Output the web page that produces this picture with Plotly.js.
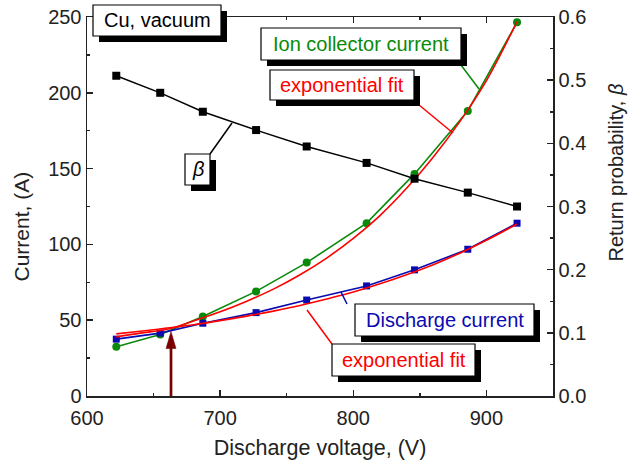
<!DOCTYPE html>
<html>
<head>
<meta charset="utf-8">
<script src="https://cdn.plot.ly/plotly-3.0.1.min.js"></script>
<style>html,body{margin:0;padding:0;background:#fff;}#chart{width:631px;height:469px;}</style>
</head>
<body>
<div id="chart"></div>
<script>
// ---- data ----
var voltage = [622, 655, 687, 727, 765, 810, 846, 886, 923];
var ionCurrent = [32.5, 40.5, 52.5, 69, 88, 114, 146.5, 188, 246.5];
var dischargeCurrent = [37.5, 41.5, 48, 55, 63.3, 72.6, 83.2, 96.8, 114];
var beta = [0.507, 0.480, 0.450, 0.421, 0.395, 0.369, 0.344, 0.322, 0.300];

var fitVoltage = [622, 640, 660, 680, 700, 720, 740, 760, 780, 800, 820, 840, 860, 880, 900, 923];
var ionFit = [39, 41.5, 44, 49.5, 55.5, 62.5, 70.5, 80, 91, 104, 119, 137, 157.5, 181, 208, 247];
var dischargeFit = [41, 42.7, 44.8, 47, 49.7, 52.7, 56, 59.7, 64, 68.6, 74, 80, 86.6, 94.2, 102.7, 113.5];

var xTicks = [600, 700, 800, 900];
var yTicks = [0, 50, 100, 150, 200, 250];
var y2Ticks = [0, 0.1, 0.2, 0.3, 0.4, 0.5, 0.6];

// ---- styling ----
var GREEN = '#0a8a0a', RED = '#ff0000', BLUE = '#0a0ab0', BLACK = '#000000', MAROON = '#7a0000';
var INK = '#222';
var FONT = 'Liberation Sans, Arial, sans-serif';

// plot area in pixels: left 87, right 553, top 17, bottom 396
function PX(px){ return (px - 87) / 466; }
function PY(py){ return (396 - py) / 379; }

var traces = [
  {x: voltage, y: ionCurrent, mode: 'lines+markers', line: {color: GREEN, width: 1.6},
   marker: {symbol: 'circle', size: 8, color: GREEN}, yaxis: 'y'},
  {x: voltage, y: dischargeCurrent, mode: 'lines+markers', line: {color: BLUE, width: 1.6},
   marker: {symbol: 'square', size: 7, color: BLUE}, yaxis: 'y'},
  {x: fitVoltage, y: ionFit, mode: 'lines', line: {color: RED, width: 1.6, shape: 'spline'}, yaxis: 'y'},
  {x: fitVoltage, y: dischargeFit, mode: 'lines', line: {color: RED, width: 1.6, shape: 'spline'}, yaxis: 'y'},
  {x: voltage, y: beta, mode: 'lines+markers', line: {color: BLACK, width: 1.4},
   marker: {symbol: 'square', size: 8, color: BLACK}, yaxis: 'y2'}
];

var boxes = [
  {b: [93, 5, 221, 36], text: 'Cu, vacuum', color: BLACK},
  {b: [261, 28, 461, 60], text: 'Ion collector current', color: GREEN},
  {b: [270, 70, 414, 100], text: 'exponential fit', color: RED},
  {b: [185, 154, 210, 185], text: '<i>β</i>', color: BLACK},
  {b: [355, 304, 534, 336], text: 'Discharge current', color: BLUE},
  {b: [332, 344, 475, 376], text: 'exponential fit', color: RED}
];
var leaders = [
  {p: [458, 61, 479, 89], color: GREEN},
  {p: [413, 100, 453, 133], color: RED},
  {p: [210, 154, 232, 123], color: BLACK},
  {p: [347, 304, 341, 292], color: BLUE},
  {p: [332, 344, 307, 310], color: RED}
];

var shapes = [];
var annotations = [];
leaders.forEach(function(l){
  shapes.push({type: 'line', xref: 'paper', yref: 'paper', x0: PX(l.p[0]), y0: PY(l.p[1]), x1: PX(l.p[2]), y1: PY(l.p[3]),
    line: {color: l.color, width: 1.5}});
});
boxes.forEach(function(bx){
  var b = bx.b, s = 6;
  shapes.push({type: 'rect', xref: 'paper', yref: 'paper', x0: PX(b[0] + s), x1: PX(b[2] + s), y0: PY(b[1] + s), y1: PY(b[3] + s),
    fillcolor: '#000', line: {width: 0}});
  shapes.push({type: 'rect', xref: 'paper', yref: 'paper', x0: PX(b[0]), x1: PX(b[2]), y0: PY(b[1]), y1: PY(b[3]),
    fillcolor: '#fff', line: {color: '#000', width: 1.2}});
  annotations.push({xref: 'paper', yref: 'paper', x: PX((b[0] + b[2]) / 2), y: PY((b[1] + b[3]) / 2),
    xanchor: 'center', yanchor: 'middle', showarrow: false, text: bx.text,
    font: {family: FONT, size: 20, color: bx.color}});
});
// arrow marking the threshold voltage (shaft + slim head)
shapes.push({type: 'line', xref: 'paper', yref: 'paper', x0: PX(171), x1: PX(171), y0: PY(396), y1: PY(346),
  line: {color: MAROON, width: 2.7}});
shapes.push({type: 'path', xref: 'paper', yref: 'paper',
  path: 'M' + PX(171) + ',' + PY(331.5) + ' L' + PX(176) + ',' + PY(348.5) + ' L' + PX(166) + ',' + PY(348.5) + ' Z',
  fillcolor: MAROON, line: {color: MAROON, width: 0.5}});

// axis titles placed where the reference shows them
annotations.push({xref: 'paper', yref: 'paper', x: PX(21), y: PY(226.5), xanchor: 'center', yanchor: 'middle',
  textangle: -90, showarrow: false, text: 'Current, (A)', font: {family: FONT, size: 21, color: INK}});
annotations.push({xref: 'paper', yref: 'paper', x: PX(616), y: PY(172.5), xanchor: 'center', yanchor: 'middle',
  textangle: -90, showarrow: false, text: 'Return probability, <i>β</i>', font: {family: FONT, size: 20, color: INK}});

var tickfont = {family: FONT, size: 20, color: INK};
var layout = {
  width: 631, height: 469,
  margin: {l: 87, r: 78, t: 17, b: 73, pad: 0},
  paper_bgcolor: '#fff', plot_bgcolor: '#fff',
  showlegend: false,
  font: {family: FONT, color: INK},
  xaxis: {range: [600, 950], tickvals: xTicks, ticks: 'inside', ticklen: 6, tickwidth: 1.5, tickcolor: INK,
    showline: true, linecolor: INK, linewidth: 1.5, mirror: 'ticks', showgrid: false, zeroline: false,
    ticklabelstandoff: 3,
    minor: {ticks: 'inside', ticklen: 3, tickwidth: 1.5, dtick: 50, tick0: 600, tickcolor: INK, showgrid: false},
    tickfont: tickfont, title: {text: 'Discharge voltage, (V)', font: {family: FONT, size: 21.5, color: INK}, standoff: 12}},
  yaxis: {range: [0, 250], tickvals: yTicks, ticks: 'inside', ticklen: 6, tickwidth: 1.5, tickcolor: INK,
    showline: true, linecolor: INK, linewidth: 1.5, showgrid: false, zeroline: false,
    minor: {ticks: 'inside', ticklen: 3, tickwidth: 1.5, dtick: 25, tick0: 0, tickcolor: INK, showgrid: false},
    tickfont: tickfont},
  yaxis2: {range: [0, 0.6], tickvals: y2Ticks, tickformat: '.1f', overlaying: 'y', side: 'right',
    ticks: 'inside', ticklen: 6, tickwidth: 1.5, tickcolor: INK,
    showline: true, linecolor: INK, linewidth: 1.5, showgrid: false, zeroline: false,
    minor: {ticks: 'inside', ticklen: 3, tickwidth: 1.5, dtick: 0.05, tick0: 0, tickcolor: INK, showgrid: false},
    tickfont: tickfont},
  shapes: shapes,
  annotations: annotations
};

Plotly.newPlot('chart', traces, layout, {displayModeBar: false, staticPlot: true});
</script>
</body>
</html>
